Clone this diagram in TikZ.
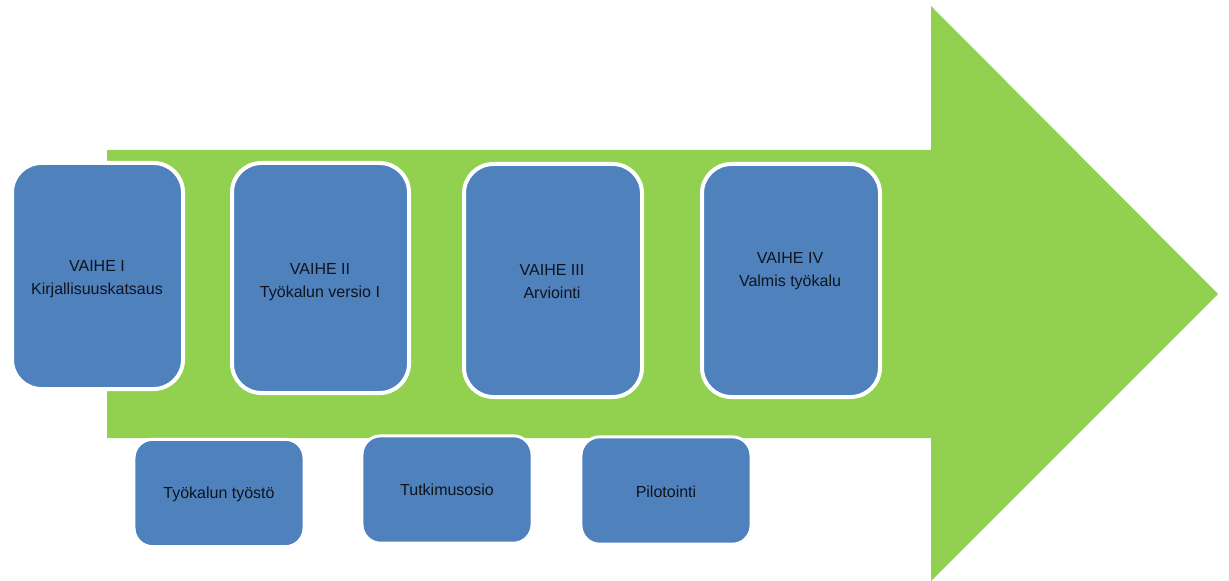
\documentclass[tikz,border=0pt]{standalone}
\usepackage{fontspec}
\setmainfont{Liberation Sans}
\definecolor{arrowgreen}{RGB}{146,208,80}
\definecolor{boxblue}{RGB}{79,129,189}
\definecolor{txt}{RGB}{15,20,30}
\begin{document}
\begin{tikzpicture}[x=0.75pt,y=-0.75pt,
  phase/.style={draw=white,line width=3pt,fill=boxblue,rounded corners=22pt,inner sep=0pt},
  task/.style={draw=white,line width=2.2pt,fill=boxblue,rounded corners=14pt,inner sep=0pt,
     minimum width=127.5pt,minimum height=80.5pt},
  lbl/.style={text=txt,align=center,font=\fontsize{12}{17.25}\selectfont,inner sep=0pt}]
\useasboundingbox (0,0) rectangle (1229,581);
% big arrow
\fill[arrowgreen] (107,150) -- (931,150) -- (931,6) -- (1218,294) -- (931,581) -- (931,438) -- (107,438) -- cycle;
% phase boxes
\node[phase,minimum width=128.25pt,minimum height=169.5pt] (b1) at (97.5,276) {};
\node[phase,minimum width=132.75pt,minimum height=172.5pt] (b2) at (320.5,278) {};
\node[phase,minimum width=133.5pt,minimum height=174.75pt] (b3) at (553,280.5) {};
\node[phase,minimum width=133.5pt,minimum height=174.75pt] (b4) at (791,280.5) {};
% task boxes
\node[task] (t1) at (219,493) {};
\node[task] (t2) at (447,489.5) {};
\node[task] (t3) at (666,490.5) {};
% labels
\node[lbl] (l1) at (97,279) {VAIHE I\\Kirjallisuuskatsaus};
\node[lbl] (l2) at (320,282) {VAIHE II\\Työkalun versio I};
\node[lbl] (l3) at (552,281.5) {VAIHE III\\Arviointi};
\node[lbl] (l4) at (790,271) {VAIHE IV\\Valmis työkalu};
\node[lbl] (m1) at (219,494) {Työkalun työstö};
\node[lbl] (m2) at (447,490) {Tutkimusosio};
\node[lbl] (m3) at (666,492) {Pilotointi};
\end{tikzpicture}
\end{document}
